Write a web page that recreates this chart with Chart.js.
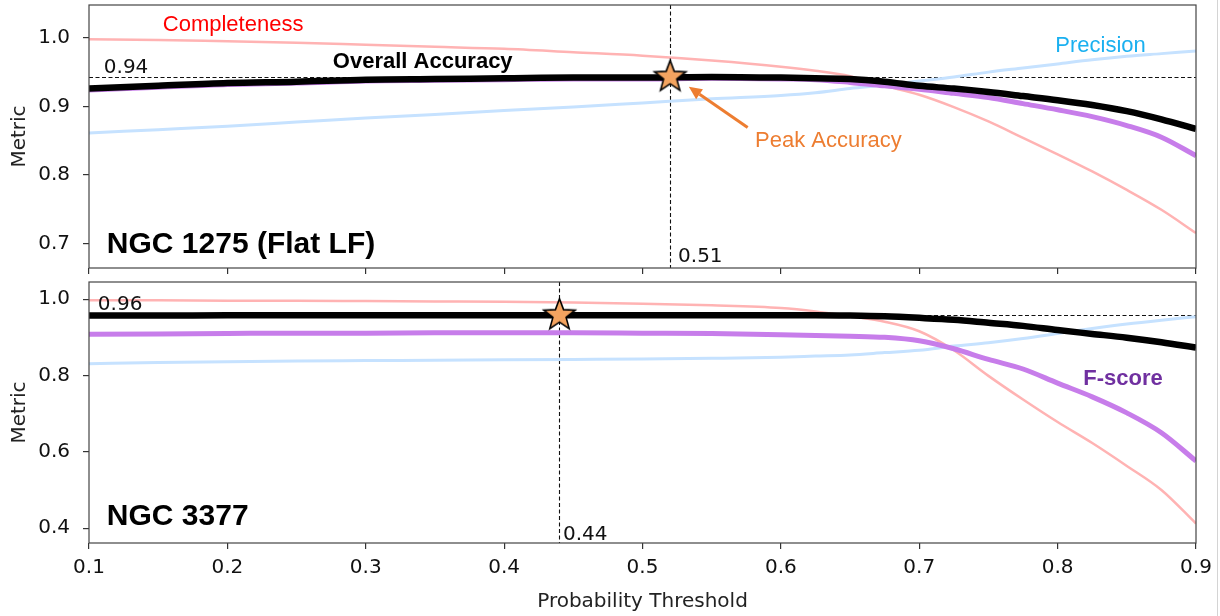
<!DOCTYPE html>
<html><head><meta charset="utf-8">
<script src="https://cdn.jsdelivr.net/npm/chart.js@4.4.1/dist/chart.umd.min.js"></script>
<style>
html,body{margin:0;padding:0;background:#fff;}
#wrap{position:relative;width:1220px;height:616px;overflow:hidden;background:#fff;}
canvas{position:absolute;left:0;}
#c1{top:0}
#c2{top:280px}
#edge{position:absolute;left:1217px;top:0;width:1px;height:616px;background:#d4d4d4;}
</style></head><body>
<div id="wrap"><canvas id="c1" width="1220" height="280"></canvas><canvas id="c2" width="1220" height="336"></canvas><div id="edge"></div></div>
<script>
// ---- data ----
const thresholds = [0.10,0.15,0.20,0.25,0.30,0.35,0.40,0.45,0.50,0.55,0.60,0.625,0.65,0.675,0.70,0.725,0.75,0.775,0.80,0.825,0.85,0.875,0.90];
const xTicks = [0.1,0.2,0.3,0.4,0.5,0.6,0.7,0.8,0.9];

const ngc1275Accuracy     = [0.926,0.930,0.934,0.936,0.939,0.940,0.941,0.942,0.942,0.943,0.942,0.941,0.940,0.936,0.930,0.926,0.921,0.915,0.909,0.902,0.893,0.881,0.867];
const ngc1275FScore       = [0.924,0.928,0.932,0.934,0.937,0.938,0.939,0.940,0.940,0.941,0.940,0.939,0.935,0.930,0.925,0.919,0.913,0.904,0.895,0.885,0.872,0.855,0.828];
const ngc1275Completeness = [0.998,0.997,0.995,0.993,0.990,0.987,0.984,0.979,0.974,0.967,0.958,0.952,0.944,0.930,0.917,0.899,0.878,0.854,0.830,0.805,0.778,0.749,0.715];
const ngc1275Precision    = [0.861,0.866,0.871,0.877,0.883,0.888,0.894,0.899,0.905,0.911,0.916,0.920,0.926,0.931,0.937,0.943,0.950,0.956,0.962,0.968,0.973,0.977,0.981];
const ngc1275YTicks = [0.7,0.8,0.9,1.0];
const ngc1275Peak = [0.52, 0.943];
const ngc1275PeakLabels = ['0.51','0.94'];

const ngc3377Accuracy     = [0.957,0.957,0.958,0.958,0.958,0.958,0.958,0.958,0.958,0.958,0.958,0.958,0.957,0.955,0.951,0.946,0.938,0.930,0.919,0.909,0.899,0.887,0.873];
const ngc3377FScore       = [0.908,0.909,0.910,0.911,0.911,0.912,0.912,0.912,0.911,0.910,0.907,0.905,0.903,0.900,0.891,0.870,0.842,0.817,0.780,0.744,0.702,0.650,0.576];
const ngc3377Completeness = [0.997,0.997,0.996,0.996,0.995,0.994,0.993,0.991,0.988,0.984,0.977,0.968,0.955,0.941,0.916,0.866,0.799,0.737,0.678,0.623,0.563,0.500,0.412];
const ngc3377Precision    = [0.831,0.834,0.836,0.838,0.839,0.840,0.841,0.842,0.843,0.845,0.848,0.851,0.854,0.860,0.866,0.877,0.886,0.897,0.910,0.923,0.935,0.945,0.954];
const ngc3377YTicks = [0.4,0.6,0.8,1.0];
const ngc3377Peak = [0.44, 0.958];
const ngc3377PeakLabels = ['0.44','0.96'];

const panelTitles = ['NGC 1275 (Flat LF)','NGC 3377'];
const seriesNames = ['Overall Accuracy','F-score','Completeness','Precision','Peak Accuracy'];

// ---- styling ----
const C_ACC='#000000', C_F='#c77dea', C_COMP='#ffb3b3', C_PREC='#c6e2ff';
const TICK_FONT={family:'"DejaVu Sans", sans-serif', size:20};
const ANN='"Liberation Sans", Arial, sans-serif';

function makeStar(R){
  const s=Math.ceil(R*2+4); const c=document.createElement('canvas'); c.width=s; c.height=s;
  const g=c.getContext('2d'); const cx=s/2, cy=s/2, r=R*0.42;
  g.beginPath();
  for(let i=0;i<10;i++){const a=-Math.PI/2+i*Math.PI/5; const rr=i%2?r:R; g.lineTo(cx+rr*Math.cos(a), cy+rr*Math.sin(a));}
  g.closePath(); g.fillStyle='#f4a460'; g.fill(); g.lineWidth=1.6; g.strokeStyle='#000'; g.lineJoin='miter'; g.stroke();
  return c;
}
const starImg = makeStar(16.5);

const decor = {
  id:'decor',
  beforeDatasetsDraw(chart, args, o){
    const {ctx, chartArea:a, scales:{x,y}} = chart;
    ctx.save(); ctx.strokeStyle='#111'; ctx.lineWidth=1.1; ctx.setLineDash([4,2.5]);
    const py=Math.round(y.getPixelForValue(o.peak[1]))+0.5;
    ctx.beginPath(); ctx.moveTo(a.left,py); ctx.lineTo(a.right,py); ctx.stroke();
    const px=Math.round(x.getPixelForValue(o.peak[0]))+0.5;
    ctx.beginPath(); ctx.moveTo(px,a.top); ctx.lineTo(px,a.bottom); ctx.stroke();
    ctx.restore();
  },
  afterDraw(chart, args, o){
    const {ctx, chartArea:a, scales:{x,y}} = chart;
    ctx.save();
    ctx.strokeStyle='#444'; ctx.lineWidth=1.2; ctx.setLineDash([]);
    ctx.strokeRect(a.left, a.top, a.right-a.left, a.bottom-a.top);
    if(o.arrow){
      const x1=x.getPixelForValue(o.arrow[0]), y1=y.getPixelForValue(o.arrow[1]);
      const x2=x.getPixelForValue(o.arrow[2]), y2=y.getPixelForValue(o.arrow[3]);
      const ang=Math.atan2(y2-y1,x2-x1), hl=13, hw=6;
      const bx=x2-hl*Math.cos(ang), by=y2-hl*Math.sin(ang);
      ctx.strokeStyle='#ed7d31'; ctx.fillStyle='#ed7d31'; ctx.lineWidth=3;
      ctx.beginPath(); ctx.moveTo(x1,y1); ctx.lineTo(bx,by); ctx.stroke();
      ctx.beginPath(); ctx.moveTo(x2,y2);
      ctx.lineTo(bx+hw*Math.sin(ang), by-hw*Math.cos(ang));
      ctx.lineTo(bx-hw*Math.sin(ang), by+hw*Math.cos(ang)); ctx.closePath(); ctx.fill();
    }
    ctx.textAlign='left'; ctx.textBaseline='alphabetic';
    for(const t of o.texts){
      ctx.font=t.font; ctx.fillStyle=t.color;
      ctx.fillText(t.text, x.getPixelForValue(t.x), y.getPixelForValue(t.y));
    }
    ctx.restore();
  }
};

function makeChart(id, series, yTicks, ymin, ymax, peak, showXLabels, layoutPad, xHeight, decorOpts){
  const ds = [
    {type:'scatter', data:[{x:peak[0], y:peak[1]}], pointStyle:starImg, pointRadius:17, showLine:false, order:0},
    {label:seriesNames[0], data:thresholds.map((t,i)=>({x:t,y:series[0][i]})), borderColor:C_ACC, borderWidth:6.5, order:1},
    {label:seriesNames[1], data:thresholds.map((t,i)=>({x:t,y:series[1][i]})), borderColor:C_F, borderWidth:5, order:2},
    {label:seriesNames[2], data:thresholds.map((t,i)=>({x:t,y:series[2][i]})), borderColor:C_COMP, borderWidth:2.5, order:3},
    {label:seriesNames[3], data:thresholds.map((t,i)=>({x:t,y:series[3][i]})), borderColor:C_PREC, borderWidth:3, order:4},
  ];
  return new Chart(document.getElementById(id), {
    type:'line',
    data:{datasets:ds},
    options:{
      responsive:false, animation:false, devicePixelRatio:1,
      layout:{padding:layoutPad, autoPadding:false},
      elements:{point:{radius:0}, line:{cubicInterpolationMode:'monotone', fill:false, borderCapStyle:'butt'}},
      plugins:{legend:{display:false}, tooltip:{enabled:false}, decor:decorOpts},
      scales:{
        x:{type:'linear', min:0.1, max:0.9,
           afterBuildTicks:s=>{s.ticks=xTicks.map(v=>({value:v}));},
           afterFit:s=>{s.height=xHeight; s.paddingLeft=0; s.paddingRight=0;},
           grid:{display:true, drawOnChartArea:false, drawTicks:true, tickLength:6, color:'#333', lineWidth:1.2},
           border:{display:false},
           ticks:{display:showXLabels, color:'#111', font:TICK_FONT, padding:7, maxRotation:0, callback:v=>v.toFixed(1)},
           title:{display:showXLabels, text:'Probability Threshold', color:'#222', font:TICK_FONT, padding:{top:0,bottom:2}}
        },
        y:{type:'linear', min:ymin, max:ymax,
           afterBuildTicks:s=>{s.ticks=yTicks.map(v=>({value:v}));},
           afterFit:s=>{s.width=89; s.paddingTop=0; s.paddingBottom=0;},
           grid:{display:true, drawOnChartArea:false, drawTicks:true, tickLength:6, color:'#333', lineWidth:1.2},
           border:{display:false},
           ticks:{color:'#111', font:TICK_FONT, padding:13, callback:v=>v.toFixed(1)},
           title:{display:true, text:'Metric', color:'#222', font:TICK_FONT, padding:{top:8,bottom:0}}
        }
      }
    },
    plugins:[decor]
  });
}

makeChart('c1', [ngc1275Accuracy, ngc1275FScore, ngc1275Completeness, ngc1275Precision], ngc1275YTicks, 0.664, 1.048,
  ngc1275Peak, false, {left:0, top:5, right:24, bottom:0}, 12,
  {peak:ngc1275Peak, arrow:[0.576,0.869,0.5335,0.9285],
   texts:[
    {text:seriesNames[2], x:0.1533, y:1.0102, color:'#ff0000', font:'22px '+ANN},
    {text:'Precision', x:0.7983, y:0.9796, color:'#1ab0f0', font:'22px '+ANN},
    {text:seriesNames[0], x:0.2762, y:0.9562, color:'#000', font:'bold 22px '+ANN},
    {text:seriesNames[4], x:0.5813, y:0.8409, color:'#ed7d31', font:'22px '+ANN},
    {text:panelTitles[0], x:0.1129, y:0.6861, color:'#000', font:'bold 30px '+ANN},
    {text:ngc1275PeakLabels[1], x:0.1107, y:0.9489, color:'#111', font:'20px "DejaVu Sans"'},
    {text:ngc1275PeakLabels[0], x:0.5257, y:0.673, color:'#111', font:'20px "DejaVu Sans"'}
   ]});

makeChart('c2', [ngc3377Accuracy, ngc3377FScore, ngc3377Completeness, ngc3377Precision], ngc3377YTicks, 0.361, 1.045,
  ngc3377Peak, true, {left:0, top:2, right:24, bottom:0}, 73,
  {peak:ngc3377Peak, arrow:null,
   texts:[
    {text:seriesNames[1], x:0.8185, y:0.7746, color:'#7030a0', font:'bold 22px '+ANN},
    {text:panelTitles[1], x:0.1129, y:0.4076, color:'#000', font:'bold 30px '+ANN},
    {text:ngc3377PeakLabels[1], x:0.1064, y:0.9712, color:'#111', font:'20px "DejaVu Sans"'},
    {text:ngc3377PeakLabels[0], x:0.4425, y:0.3683, color:'#111', font:'20px "DejaVu Sans"'}
   ]});
</script>
</body></html>
